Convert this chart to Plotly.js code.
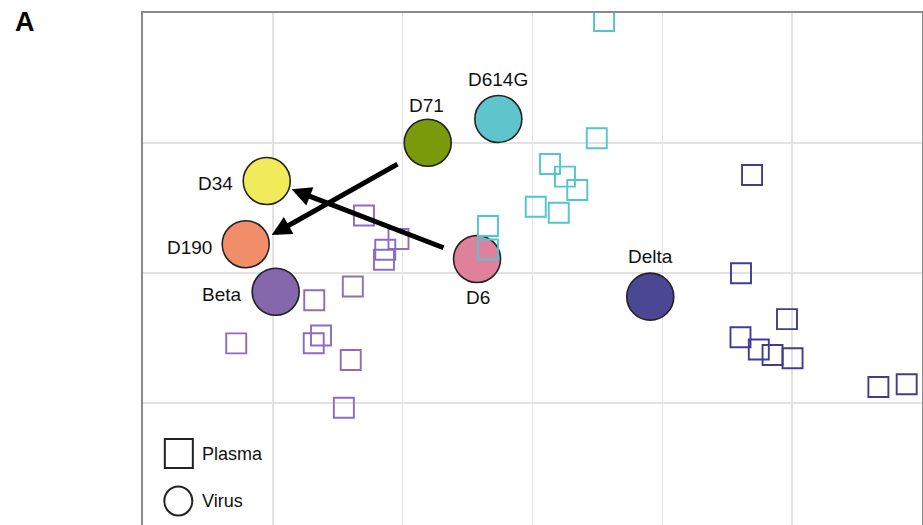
<!DOCTYPE html>
<html>
<head>
<meta charset="utf-8">
<script src="https://cdn.plot.ly/plotly-3.0.1.min.js"></script>
<style>
html,body{margin:0;padding:0;overflow:hidden;background:#fff;}
#chart{width:923px;height:545px;}
</style>
</head>
<body>
<div id="chart"></div>
<script>
// ---- data (antigenic map coordinates, 1 unit = 1 grid cell) ----
const virusNames = ['D71', 'D614G', 'D34', 'D190', 'Beta', 'D6', 'Delta'];
const virusX = [2.193, 2.737, 0.953, 0.791, 1.022, 2.573, 3.907];
const virusY = [3.002, 3.185, 2.708, 2.221, 1.856, 2.108, 1.818];

const plasmaD614GX = [3.551, 3.495, 3.135, 3.250, 3.345, 3.025, 3.202, 2.657, 2.657];
const plasmaD614GY = [3.938, 3.036, 2.838, 2.741, 2.638, 2.510, 2.464, 2.362, 2.181];

const plasmaBetaX = [1.702, 1.968, 1.866, 1.856, 1.616, 1.319, 1.371, 1.315, 0.718, 1.600, 1.547];
const plasmaBetaY = [2.442, 2.262, 2.179, 2.102, 1.896, 1.790, 1.519, 1.460, 1.459, 1.331, 0.964];

const plasmaDeltaX = [4.691, 4.606, 4.960, 4.602, 4.743, 4.849, 5.003, 5.664, 5.882];
const plasmaDeltaY = [2.754, 1.998, 1.645, 1.506, 1.412, 1.369, 1.344, 1.123, 1.144];

// arrows: shift from -> to
const arrowFromX = [1.972, 2.326];
const arrowFromY = [2.844, 2.190];
const arrowToX = [0.991, 1.145];
const arrowToY = [2.292, 2.644];

const legendLabels = ['Plasma', 'Virus'];

// ---- styles ----
const FONT = 'Liberation Sans, Arial, Helvetica, sans-serif';
const virusColors = {
  'D71': '#7a9a0c', 'D614G': '#5fc4cb', 'D34': '#f1ea5a', 'D190': '#f18d68',
  'Beta': '#8567ae', 'D6': '#df809d', 'Delta': '#4b4792'
};
const labelShift = { // pixel offsets of labels relative to circle centres
  'D71': {xa: 'center', dx: -1, dy: 37},
  'D614G': {xa: 'center', dx: 0, dy: 39},
  'D34': {xa: 'right', dx: -32, dy: -3},
  'D190': {xa: 'right', dx: -32, dy: -3},
  'Beta': {xa: 'right', dx: -32, dy: -3},
  'D6': {xa: 'center', dx: 1, dy: -39},
  'Delta': {xa: 'center', dx: 0, dy: 40}
};

function plasmaTrace(xs, ys, color) {
  return {
    type: 'scatter', mode: 'markers', x: xs, y: ys, hoverinfo: 'skip',
    marker: {symbol: 'square-open', size: 20, color: color, line: {width: 1.9, color: color}},
    showlegend: false, cliponaxis: true
  };
}

const traces = [
  {
    type: 'scatter', mode: 'markers', x: virusX, y: virusY, text: virusNames,
    marker: {
      size: 47, color: virusNames.map(n => virusColors[n]),
      line: {width: 1.6, color: '#222222'}
    },
    showlegend: false, hoverinfo: 'text'
  },
  plasmaTrace(plasmaD614GX, plasmaD614GY, '#52c6cd'),
  plasmaTrace(plasmaBetaX, plasmaBetaY, '#8b6cc0'),
  plasmaTrace(plasmaDeltaX, plasmaDeltaY, '#403c91')
];

const annotations = [];
virusNames.forEach((n, i) => {
  const s = labelShift[n];
  annotations.push({
    x: virusX[i], y: virusY[i], xref: 'x', yref: 'y', text: n, showarrow: false,
    xanchor: s.xa, yanchor: 'middle', xshift: s.dx, yshift: s.dy,
    font: {family: FONT, size: 19, color: '#111111'}
  });
});
arrowFromX.forEach((_, i) => {
  annotations.push({
    x: arrowToX[i], y: arrowToY[i], ax: arrowFromX[i], ay: arrowFromY[i],
    xref: 'x', yref: 'y', axref: 'x', ayref: 'y', text: '', showarrow: true,
    arrowhead: 2, arrowsize: 0.78, arrowwidth: 5, arrowcolor: '#000000', standoff: 0, startstandoff: 0
  });
});
// panel letter
annotations.push({
  xref: 'paper', yref: 'paper', x: -0.1515, y: 0.983, text: '<b>A</b>', showarrow: false,
  xanchor: 'center', yanchor: 'middle', font: {family: FONT, size: 27, color: '#000'}
});
// legend texts
annotations.push({
  xref: 'x', yref: 'y', x: 0.436, y: 0.607, text: legendLabels[0], showarrow: false,
  xanchor: 'left', yanchor: 'middle', font: {family: FONT, size: 18, color: '#111'}
});
annotations.push({
  xref: 'x', yref: 'y', x: 0.436, y: 0.245, text: legendLabels[1], showarrow: false,
  xanchor: 'left', yanchor: 'middle', font: {family: FONT, size: 18, color: '#111'}
});

const shapes = [
  {type: 'rect', xref: 'x', yref: 'y', xsizemode: 'pixel', ysizemode: 'pixel',
   xanchor: 0.276, yanchor: 0.612, x0: -14, x1: 14, y0: -14.5, y1: 14.5,
   line: {color: '#222', width: 2}, fillcolor: 'rgba(0,0,0,0)'},
  {type: 'circle', xref: 'x', yref: 'y', xsizemode: 'pixel', ysizemode: 'pixel',
   xanchor: 0.272, yanchor: 0.246, x0: -14, x1: 14, y0: -14.5, y1: 14.5,
   line: {color: '#222', width: 2}, fillcolor: 'rgba(0,0,0,0)'}
];

const axisBase = {
  showgrid: true, gridcolor: '#e2e2e2', gridwidth: 1.6, zeroline: false,
  showticklabels: false, ticks: '', dtick: 1, tick0: 0,
  showline: true, mirror: true, linecolor: '#8a8a8a', linewidth: 1.6, fixedrange: true
};

const layout = {
  width: 923, height: 545,
  margin: {l: 143, r: 1, t: 13, b: 12, pad: 0},
  paper_bgcolor: '#ffffff', plot_bgcolor: '#ffffff',
  xaxis: Object.assign({}, axisBase, {range: [0, 6]}),
  yaxis: Object.assign({}, axisBase, {range: [0, 4]}),
  annotations: annotations,
  shapes: shapes,
  showlegend: false
};

Plotly.newPlot('chart', traces, layout, {displayModeBar: false, staticPlot: true});
</script>
</body>
</html>
